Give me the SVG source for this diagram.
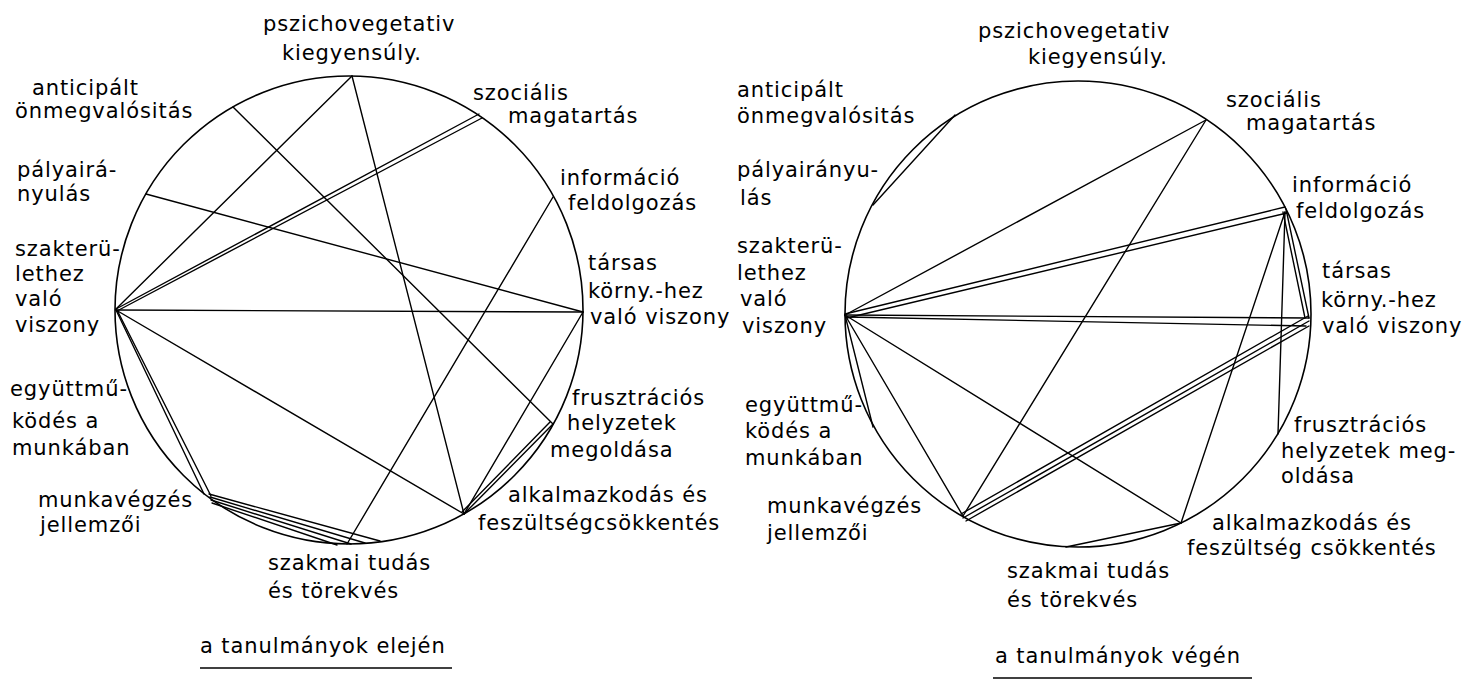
<svg xmlns="http://www.w3.org/2000/svg" width="1464" height="680" viewBox="0 0 1464 680">
<style>
  .ring { fill: none; stroke: #000; stroke-width: 1.6; }
  .c line { stroke: #000; stroke-width: 1.4; stroke-linecap: round; }
  text { font-family: "DejaVu Sans", "Liberation Sans", sans-serif; font-size: 21px; letter-spacing: 0.9px; fill: #000; }
  .ul { stroke: #000; stroke-width: 1.4; }
</style>
<rect width="1464" height="680" fill="#fff"/>

<!-- LEFT CHART -->
<g id="left-chart">
  <circle class="ring" cx="349" cy="310" r="234"/>
  <g id="left-connectors" class="c">
    <line x1="352" y1="76" x2="464" y2="514"/>
    <line x1="352" y1="76" x2="116" y2="309"/>
    <line x1="233" y1="107" x2="553" y2="424"/>
    <line x1="146" y1="194" x2="583" y2="312"/>
    <line x1="479" y1="114" x2="116" y2="309"/>
    <line x1="482" y1="118" x2="117" y2="311"/>
    <line x1="553" y1="197" x2="347" y2="544"/>
    <line x1="116" y1="310" x2="583" y2="312"/>
    <line x1="116" y1="310" x2="464" y2="514"/>
    <line x1="583" y1="312" x2="464" y2="514"/>
    <line x1="553" y1="424" x2="464" y2="514"/>
    <line x1="550" y1="422" x2="462" y2="512"/>
    <line x1="116" y1="310" x2="204" y2="494"/>
    <line x1="117" y1="310" x2="211" y2="496"/>
    <line x1="209" y1="494" x2="380" y2="541"/>
    <line x1="210" y1="497" x2="365" y2="543"/>
    <line x1="211" y1="500" x2="351" y2="544"/>
    <line x1="212" y1="503" x2="337" y2="545"/>
  </g>
  <g id="L-pszicho"><text x="263" y="31">pszichovegetativ</text><text x="282" y="60">kiegyensúly.</text></g>
  <g id="L-antic"><text x="32" y="95">anticipált</text><text x="15" y="118">önmegvalósitás</text></g>
  <g id="L-palya"><text x="17" y="177">pályairá-</text><text x="17" y="201">nyulás</text></g>
  <g id="L-szakter"><text x="15" y="256">szakterü-</text><text x="15" y="281">lethez</text><text x="15" y="306">való</text><text x="15" y="332">viszony</text></g>
  <g id="L-egyutt"><text x="10" y="396">együttmű-</text><text x="12" y="428">ködés a</text><text x="12" y="455">munkában</text></g>
  <g id="L-munka"><text x="38" y="507">munkavégzés</text><text x="40" y="532">jellemzői</text></g>
  <g id="L-szakmai"><text x="268" y="570">szakmai tudás</text><text x="268" y="598">és törekvés</text></g>
  <g id="L-szoc"><text x="473" y="100">szociális</text><text x="508" y="123">magatartás</text></g>
  <g id="L-info"><text x="560" y="185">információ</text><text x="568" y="210">feldolgozás</text></g>
  <g id="L-tarsas"><text x="588" y="270">társas</text><text x="588" y="298">körny.-hez</text><text x="590" y="324">való viszony</text></g>
  <g id="L-frusz"><text x="572" y="405">frusztrációs</text><text x="567" y="430">helyzetek</text><text x="550" y="457">megoldása</text></g>
  <g id="L-alk"><text x="508" y="502">alkalmazkodás és</text><text x="478" y="530">feszültségcsökkentés</text></g>
  <g id="L-caption"><text x="200" y="653">a tanulmányok elején</text><line class="ul" x1="200" y1="668" x2="452" y2="668"/></g>
</g>

<!-- RIGHT CHART -->
<g id="right-chart">
  <circle class="ring" cx="1078" cy="314" r="233"/>
  <g id="right-connectors" class="c">
    <line x1="955" y1="115" x2="873" y2="205"/>
    <line x1="1206" y1="120" x2="845" y2="315"/>
    <line x1="1206" y1="120" x2="963" y2="516"/>
    <line x1="1285" y1="207" x2="845" y2="314"/>
    <line x1="1287" y1="213" x2="847" y2="318"/>
    <line x1="1286" y1="209" x2="1309" y2="318"/>
    <line x1="1283" y1="212" x2="1305" y2="318"/>
    <line x1="1285" y1="212" x2="1278" y2="434"/>
    <line x1="1285" y1="212" x2="1181" y2="523"/>
    <line x1="845" y1="315" x2="1309" y2="318"/>
    <line x1="846" y1="317" x2="1306" y2="326"/>
    <line x1="845" y1="315" x2="1181" y2="523"/>
    <line x1="845" y1="315" x2="963" y2="516"/>
    <line x1="845" y1="315" x2="873" y2="427"/>
    <line x1="961" y1="514" x2="1308" y2="316"/>
    <line x1="963" y1="518" x2="1309" y2="321"/>
    <line x1="966" y1="521" x2="1309" y2="326"/>
    <line x1="1181" y1="523" x2="1066" y2="547"/>
  </g>
  <g id="R-pszicho"><text x="978" y="38">pszichovegetativ</text><text x="1028" y="64">kiegyensúly.</text></g>
  <g id="R-antic"><text x="737" y="97">anticipált</text><text x="737" y="123">önmegvalósitás</text></g>
  <g id="R-palya"><text x="737" y="177">pályairányu-</text><text x="740" y="205">lás</text></g>
  <g id="R-szakter"><text x="737" y="253">szakterü-</text><text x="737" y="280">lethez</text><text x="740" y="306">való</text><text x="742" y="333">viszony</text></g>
  <g id="R-egyutt"><text x="745" y="412">együttmű-</text><text x="745" y="438">ködés a</text><text x="745" y="465">munkában</text></g>
  <g id="R-munka"><text x="767" y="513">munkavégzés</text><text x="767" y="540">jellemzői</text></g>
  <g id="R-szakmai"><text x="1007" y="578">szakmai tudás</text><text x="1007" y="607">és törekvés</text></g>
  <g id="R-szoc"><text x="1226" y="107">szociális</text><text x="1246" y="130">magatartás</text></g>
  <g id="R-info"><text x="1292" y="192">információ</text><text x="1296" y="218">feldolgozás</text></g>
  <g id="R-tarsas"><text x="1322" y="278">társas</text><text x="1321" y="307">körny.-hez</text><text x="1322" y="333">való viszony</text></g>
  <g id="R-frusz"><text x="1294" y="432">frusztrációs</text><text x="1281" y="458">helyzetek meg-</text><text x="1281" y="483">oldása</text></g>
  <g id="R-alk"><text x="1212" y="530">alkalmazkodás és</text><text x="1187" y="555">feszültség csökkentés</text></g>
  <g id="R-caption"><text x="995" y="663">a tanulmányok végén</text><line class="ul" x1="993" y1="678" x2="1252" y2="678"/></g>
</g>
</svg>
